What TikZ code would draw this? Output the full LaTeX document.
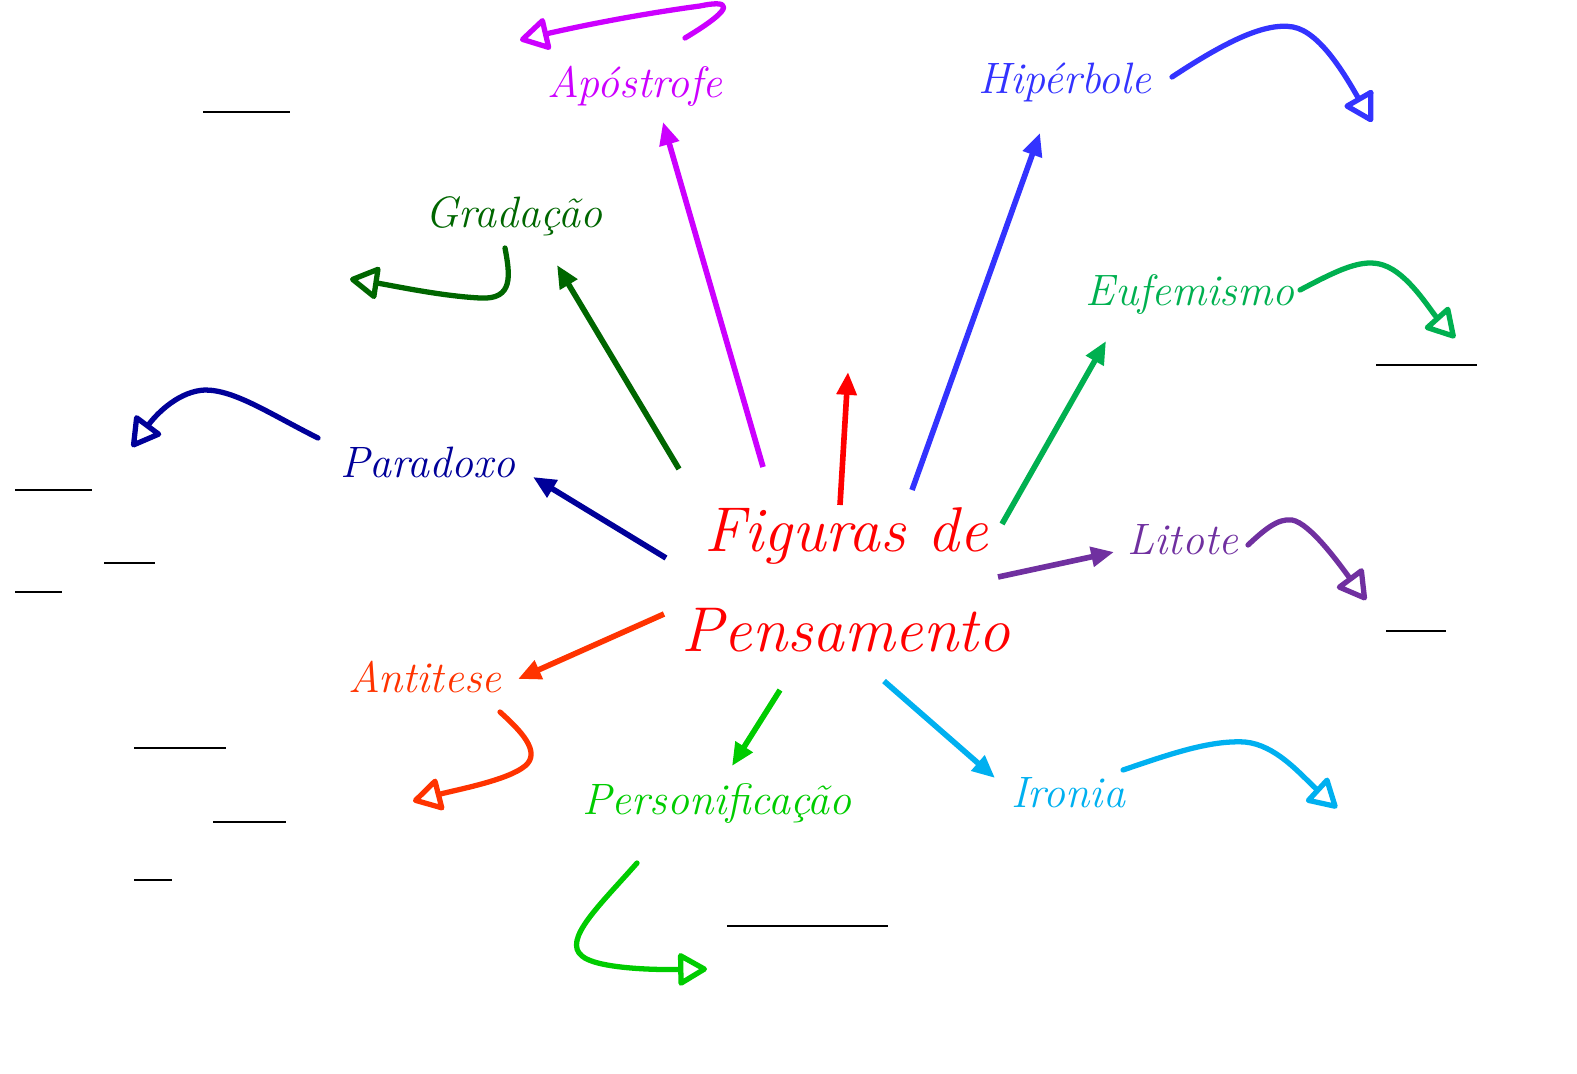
\documentclass[tikz,border=0pt]{standalone}
\usetikzlibrary{arrows.meta}
\definecolor{FigRed}{HTML}{FF0000}
\definecolor{ApoMagenta}{HTML}{CC00FF}
\definecolor{HipBlue}{HTML}{3333FF}
\definecolor{GradGreen}{HTML}{006600}
\definecolor{EufGreen}{HTML}{00B050}
\definecolor{ParNavy}{HTML}{000099}
\definecolor{LitPurple}{HTML}{7030A0}
\definecolor{AntOrange}{HTML}{FF3300}
\definecolor{PerGreen}{HTML}{00CC00}
\definecolor{IroBlue}{HTML}{00B0F0}

\begin{document}
\begin{tikzpicture}[x=0.01cm,y=-0.01cm]
    \tikzset{lab/.style={font=\fontsize{12.5}{15}\selectfont\itshape,inner sep=1pt},
      arr/.style={line width=1.6pt,-{Triangle[length=6.5pt,width=5.5pt]}},
      curl/.style={line width=1.5pt,line cap=round,line join=round,
        -{Triangle[open,length=9pt,width=10pt,round]}},
      blank/.style={line width=0.8pt}}
    \useasboundingbox (0,0) rectangle (1577,1073);
    % centre and labels
    \node[text=FigRed,align=center,inner sep=0pt,
      font=\fontsize{18}{28.5}\selectfont\itshape] (ctr) at (846,580) {Figuras de\\Pensamento};
    \node[lab,text=ApoMagenta] (apo) at (635,86) {Apóstrofe};
    \node[lab,text=HipBlue] (hip) at (1065,82) {Hipérbole};
    \node[lab,text=GradGreen] (grad) at (514,216) {Gradação};
    \node[lab,text=EufGreen] (euf) at (1190,295) {Eufemismo};
    \node[lab,text=ParNavy] (par) at (428,462) {Paradoxo};
    \node[lab,text=LitPurple] (lit) at (1183,540) {Litote};
    \node[lab,text=AntOrange] (ant) at (425,677) {Antitese};
    \node[lab,text=PerGreen] (per) at (717,803) {Personificação};
    \node[lab,text=IroBlue] (iro) at (1068,793) {Ironia};
    % ends of the straight arrows
    \coordinate (tTop) at (840,505);  \coordinate (hTop) at (848,372);
    \coordinate (tApo) at (763,467);  \coordinate (hApo) at (663,122);
    \coordinate (tHip) at (912,490);  \coordinate (hHip) at (1040,133);
    \coordinate (tGrad) at (679,469); \coordinate (hGrad) at (557,265);
    \coordinate (tEuf) at (1002,524); \coordinate (hEuf) at (1106,341);
    \coordinate (tPar) at (666,558);  \coordinate (hPar) at (533,477);
    \coordinate (tLit) at (998,577);  \coordinate (hLit) at (1114,552);
    \coordinate (tAnt) at (664,614);  \coordinate (hAnt) at (518,679);
    \coordinate (tPer) at (780,690);  \coordinate (hPer) at (732,766);
    \coordinate (tIro) at (884,681);  \coordinate (hIro) at (995,778);
    \draw[arr,FigRed] (tTop) -- (hTop);
    \draw[arr,ApoMagenta] (tApo) -- (hApo);
    \draw[arr,HipBlue] (tHip) -- (hHip);
    \draw[arr,GradGreen] (tGrad) -- (hGrad);
    \draw[arr,EufGreen] (tEuf) -- (hEuf);
    \draw[arr,ParNavy] (tPar) -- (hPar);
    \draw[arr,LitPurple] (tLit) -- (hLit);
    \draw[arr,AntOrange] (tAnt) -- (hAnt);
    \draw[arr,PerGreen] (tPer) -- (hPer);
    \draw[arr,IroBlue] (tIro) -- (hIro);
    % curly arrows
    \coordinate (cApo1) at (685,38);   \coordinate (cApo2) at (520,40);
    \coordinate (cHip1) at (1172,77);  \coordinate (cHip2) at (1372,122);
    \coordinate (cGrad1) at (505,248); \coordinate (cGrad2) at (350,279);
    \coordinate (cEuf1) at (1300,290); \coordinate (cEuf2) at (1455,338);
    \coordinate (cPar1) at (318,438);  \coordinate (cPar2) at (132,447);
    \coordinate (cLit1) at (1248,545); \coordinate (cLit2) at (1366,600);
    \coordinate (cAnt1) at (500,712);  \coordinate (cAnt2) at (413,801);
    \coordinate (cPer1) at (637,863);  \coordinate (cPer2) at (707,969);
    \coordinate (cIro1) at (1123,770); \coordinate (cIro2) at (1337,808);
    \draw[curl,ApoMagenta] (cApo1) .. controls (740,5) and (728,0) .. (700,6)
      .. controls (640,14) and (580,26) .. (cApo2);
    \draw[curl,HipBlue] (cHip1) .. controls (1225,42) and (1265,22) .. (1293,27)
      .. controls (1320,32) and (1345,75) .. (cHip2);
    \draw[curl,GradGreen] (cGrad1) .. controls (510,275) and (514,300) .. (480,298)
      .. controls (440,296) and (390,285) .. (cGrad2);
    \draw[curl,EufGreen] (cEuf1) .. controls (1338,270) and (1362,258) .. (1383,265)
      .. controls (1408,273) and (1430,310) .. (cEuf2);
    \draw[curl,ParNavy] (cPar1) .. controls (270,414) and (235,390) .. (205,390)
      .. controls (180,391) and (158,412) .. (cPar2);
    \draw[curl,LitPurple] (cLit1) .. controls (1264,530) and (1278,518) .. (1292,520)
      .. controls (1310,523) and (1340,565) .. (cLit2);
    \draw[curl,AntOrange] (cAnt1) .. controls (520,730) and (542,752) .. (525,766)
      .. controls (508,780) and (460,789) .. (cAnt2);
    \draw[curl,PerGreen] (cPer1) .. controls (600,905) and (562,940) .. (582,956)
      .. controls (596,968) and (650,970) .. (cPer2);
    \draw[curl,IroBlue] (cIro1) .. controls (1170,754) and (1210,740) .. (1245,742)
      .. controls (1276,745) and (1300,774) .. (cIro2);
    % blank lines to fill in
    \draw[blank,line width=0.6pt] (203,112) -- (290,112);
    \draw[blank] (1376,365) -- (1477,365);
    \draw[blank] (15,490) -- (92,490);
    \draw[blank,line width=0.6pt] (104,563) -- (155,563);
    \draw[blank] (15,592) -- (62,592);
    \draw[blank,line width=0.6pt] (1386,631) -- (1446,631);
    \draw[blank] (134,748) -- (226,748);
    \draw[blank,line width=0.6pt] (213,822) -- (286,822);
    \draw[blank,line width=0.6pt] (134,880) -- (172,880);
    \draw[blank] (727,926) -- (888,926);
  \end{tikzpicture}
\end{document}
